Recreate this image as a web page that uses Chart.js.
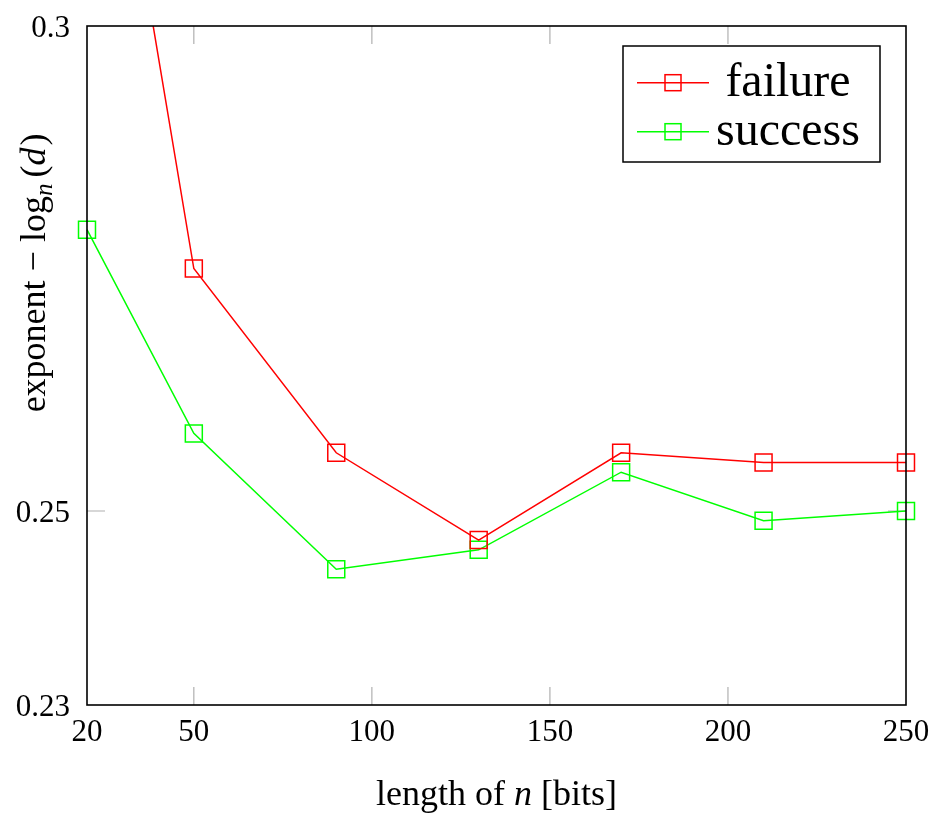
<!DOCTYPE html>
<html><head><meta charset="utf-8">
<script src="https://cdn.jsdelivr.net/npm/chart.js@4/dist/chart.umd.min.js"></script>
<style>html,body{margin:0;padding:0;background:#fff}#wrap{width:933px;height:814px}</style>
</head><body><div id="wrap"><canvas id="c" width="933" height="814"></canvas></div>
<script>
// ---- data ----
const lengths = [20, 50, 90, 130, 170, 210, 250];
const failure = [0.3407, 0.275, 0.256, 0.247, 0.256, 0.255, 0.255];
const success = [0.279, 0.258, 0.244, 0.246, 0.254, 0.249, 0.25];
const xTicks = [20, 50, 100, 150, 200, 250];
const yTicks = [0.23, 0.25, 0.3];
const yTickLabels = ['0.23', '0.25', '0.3'];
const seriesNames = ['failure', 'success'];
const seriesColors = ['#ff0000', '#00ff00'];

const SERIF = '"Liberation Serif", "Times New Roman", serif';

function toPoints(xs, ys) { return xs.map((x, i) => ({ x: x, y: ys[i] })); }

function drawRich(ctx, parts, cx, baseY) {
  let total = 0;
  parts.forEach(p => { ctx.font = p.font; p.w = ctx.measureText(p.text).width; total += p.w + (p.gap || 0); });
  let x = cx - total / 2;
  ctx.textAlign = 'left';
  ctx.textBaseline = 'alphabetic';
  parts.forEach(p => { ctx.font = p.font; ctx.fillText(p.text, x, baseY + (p.dy || 0)); x += p.w + (p.gap || 0); });
}

function zeroPad(s) { s.paddingLeft = 0; s.paddingRight = 0; s.paddingTop = 0; s.paddingBottom = 0; }

const decor = {
  id: 'decor',
  beforeDatasetsDraw(chart) {
    const { ctx, chartArea: a, scales } = chart;
    const x = scales.x, y = scales.y;
    const L = 18;
    ctx.save();
    ctx.strokeStyle = '#b0b0b0';
    ctx.lineWidth = 1.2;
    ctx.beginPath();
    xTicks.forEach(v => {
      const px = x.getPixelForValue(v);
      if (px <= a.left + 1 || px >= a.right - 1) return;
      ctx.moveTo(px, a.bottom); ctx.lineTo(px, a.bottom - L);
      ctx.moveTo(px, a.top); ctx.lineTo(px, a.top + L);
    });
    yTicks.forEach(v => {
      const py = y.getPixelForValue(v);
      if (py <= a.top + 1 || py >= a.bottom - 1) return;
      ctx.moveTo(a.left, py); ctx.lineTo(a.left + L, py);
      ctx.moveTo(a.right, py); ctx.lineTo(a.right - L, py);
    });
    ctx.stroke();
    ctx.restore();
  },
  afterDatasetsDraw(chart) {
    const { ctx, chartArea: a } = chart;
    ctx.save();
    // frame
    ctx.strokeStyle = '#000';
    ctx.lineWidth = 1.6;
    ctx.strokeRect(a.left, a.top, a.right - a.left, a.bottom - a.top);

    // legend
    const bw = 257, bh = 116;
    const bx = a.right - 26 - bw, by = a.top + 20;
    ctx.fillStyle = '#fff';
    ctx.fillRect(bx, by, bw, bh);
    ctx.lineWidth = 1.5;
    ctx.strokeStyle = '#000';
    ctx.strokeRect(bx, by, bw, bh);
    chart.data.datasets.forEach((ds, i) => {
      const ry = by + 36.7 + i * 49;
      ctx.strokeStyle = ds.borderColor;
      ctx.lineWidth = 1.5;
      ctx.beginPath();
      ctx.moveTo(bx + 14, ry); ctx.lineTo(bx + 86, ry);
      ctx.stroke();
      ctx.strokeRect(bx + 50 - 8, ry - 8, 16, 16);
      ctx.fillStyle = '#000';
      ctx.font = '48px ' + SERIF;
      ctx.textAlign = 'center';
      ctx.textBaseline = 'alphabetic';
      ctx.fillText(ds.label, bx + 165, ry + 13);
    });

    // x title
    ctx.fillStyle = '#000';
    const fN = '36px ' + SERIF, fI = 'italic 36px ' + SERIF;
    drawRich(ctx, [
      { text: 'length of ', font: fN },
      { text: 'n', font: fI },
      { text: ' [bits]', font: fN }
    ], (a.left + a.right) / 2, 805);

    // y title
    ctx.save();
    ctx.translate(45, a.top + 247);
    ctx.rotate(-Math.PI / 2);
    drawRich(ctx, [
      { text: 'exponent \u2212 log', font: fN },
      { text: 'n', font: 'italic 25px ' + SERIF, dy: 7, gap: 6 },
      { text: '(', font: fN },
      { text: 'd', font: fI, gap: 2 },
      { text: ')', font: fN }
    ], 0, 0);
    ctx.restore();
    ctx.restore();
  }
};

function seriesDataset(i, values) {
  return {
    label: seriesNames[i],
    data: toPoints(lengths, values),
    borderColor: seriesColors[i],
    backgroundColor: 'rgba(0,0,0,0)',
    borderWidth: 1.5,
    pointStyle: 'rect',
    pointRadius: 12,
    pointBorderWidth: 1.5,
    pointBorderColor: seriesColors[i],
    pointBackgroundColor: 'rgba(0,0,0,0)',
    tension: 0,
    clip: { left: 12, right: 12, top: 0, bottom: 12 }
  };
}

new Chart(document.getElementById('c'), {
  type: 'line',
  data: { datasets: [seriesDataset(0, failure), seriesDataset(1, success)] },
  options: {
    responsive: false,
    animation: false,
    devicePixelRatio: 1,
    layout: { autoPadding: false, padding: { left: 0, right: 27, top: 26, bottom: 0 } },
    plugins: { legend: { display: false }, tooltip: { enabled: false } },
    scales: {
      x: {
        type: 'linear',
        min: 20,
        max: 250,
        afterBuildTicks: s => { s.ticks = xTicks.map(v => ({ value: v })); },
        afterFit: s => { s.height = 109; zeroPad(s); },
        grid: { display: false, drawTicks: false },
        border: { display: false },
        ticks: {
          autoSkip: false, maxRotation: 0, padding: 12, color: '#000',
          font: { family: SERIF, size: 31, lineHeight: 1 },
          callback: v => String(v)
        }
      },
      y: {
        type: 'linear',
        min: 0.23,
        max: 0.3,
        afterBuildTicks: s => { s.ticks = yTicks.map(v => ({ value: v })); },
        afterFit: s => { s.width = 87; zeroPad(s); },
        grid: { display: false, drawTicks: false },
        border: { display: false },
        ticks: {
          autoSkip: false, padding: 17, labelOffset: 3, color: '#000',
          font: { family: SERIF, size: 31, lineHeight: 1 },
          callback: (v, i) => yTickLabels[i]
        }
      }
    }
  },
  plugins: [decor]
});
</script>
</body></html>
